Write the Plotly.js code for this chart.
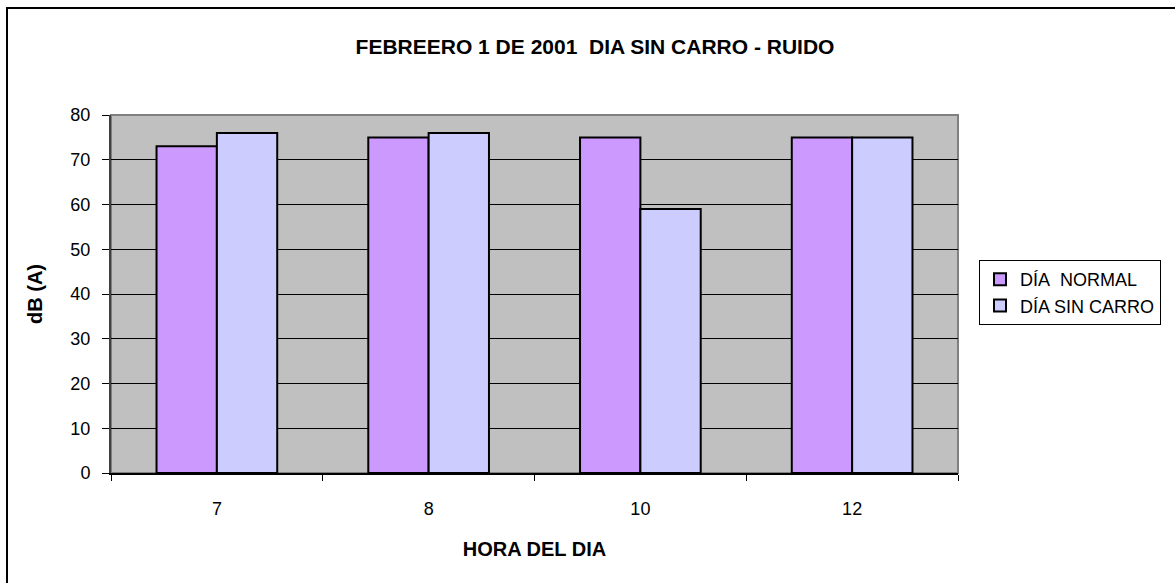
<!DOCTYPE html>
<html>
<head>
<meta charset="utf-8">
<script src="https://cdn.plot.ly/plotly-3.0.1.min.js"></script>
<style>
  html, body { margin: 0; padding: 0; background: #fff; }
  #chart { width: 1175px; height: 583px; }
</style>
</head>
<body>
<div id="chart"></div>
<script>
// *********************************************************************************************
// DATA

const HORAS = ['7', '8', '10', '12'];
const DIA_NORMAL = [73, 75, 75, 75];
const DIA_SIN_CARRO = [76, 76, 59, 75];
const Y_TICKS = [0, 10, 20, 30, 40, 50, 60, 70, 80];

const FONT = 'Arial, "Liberation Sans", sans-serif';

// *********************************************************************************************
// TRACES

let trace1 = {
    name: 'DÍA\u00a0 NORMAL',
    type: 'bar',
    x: HORAS,
    y: DIA_NORMAL,
    legendgroup: 'normal',
    marker: { color: '#CC99FF', line: { color: '#000', width: 2 } }
};

let trace2 = {
    name: 'DÍA SIN CARRO',
    type: 'bar',
    x: HORAS,
    y: DIA_SIN_CARRO,
    legendgroup: 'sincarro',
    marker: { color: '#CCCCFF', line: { color: '#000', width: 2 } }
};

let data = [trace1, trace2];

// *********************************************************************************************
// LAYOUT

// paper coords of the outer chart border (left + top edges only, it runs off the image)
const bx = (7 - 111) / 847;
const by = (473 - 8) / 358;

let layout = {
    width: 1175,
    height: 583,
    margin: { t: 115, r: 217, b: 110, l: 111 },
    paper_bgcolor: '#fff',
    plot_bgcolor: '#C0C0C0',
    font: { family: FONT, size: 18, color: '#000' },
    barmode: 'group',
    bargap: 0.43,
    bargroupgap: 0,
    title: {
        text: '<b>FEBREERO 1 DE 2001\u00a0 DIA SIN CARRO - RUIDO</b>',
        font: { family: FONT, size: 21, color: '#000' },
        xref: 'container', x: 595 / 1175, xanchor: 'center',
        yref: 'container', y: 1 - 47 / 583, yanchor: 'middle'
    },
    xaxis: {
        type: 'category',
        title: { text: '<b>HORA DEL DIA</b>', font: { size: 20 }, standoff: 24 },
        ticks: 'outside',
        tickson: 'boundaries',
        ticklen: 6,
        tickcolor: '#000',
        ticklabelstandoff: 18,
        showline: true,
        linecolor: '#000',
        linewidth: 2,
        showgrid: false,
        tickfont: { size: 18 }
    },
    yaxis: {
        title: { text: '<b>dB (A)</b>', font: { size: 20 }, standoff: 22 },
        range: [0, 80],
        tickvals: Y_TICKS,
        ticks: 'outside',
        ticklen: 7,
        tickcolor: '#000',
        ticklabelstandoff: 8,
        showline: true,
        linecolor: '#404040',
        linewidth: 2,
        showgrid: true,
        gridcolor: '#000',
        gridwidth: 1,
        zeroline: false,
        tickfont: { size: 18 }
    },
    legend: {
        x: 1.0248, xanchor: 'left',
        y: 0.595, yanchor: 'top',
        bgcolor: '#fff',
        bordercolor: '#000',
        borderwidth: 1,
        font: { family: FONT, size: 18, color: '#000' },
        traceorder: 'normal',
        tracegroupgap: 18,
        itemwidth: 30
    },
    shapes: [
        // plot area border
        {
            type: 'rect', xref: 'paper', yref: 'paper',
            x0: 0, x1: 1, y0: 0, y1: 1,
            line: { color: '#808080', width: 2 }, layer: 'below'
        },
        // chart area border
        {
            type: 'path', xref: 'paper', yref: 'paper',
            path: 'M ' + bx + ' -0.5 L ' + bx + ' ' + by + ' L 1.5 ' + by,
            line: { color: '#000', width: 2 }
        }
    ]
};

// *********************************************************************************************
// CONFIG

const config = {
    displaylogo: false,
    displayModeBar: false,
    staticPlot: true
};

Plotly.newPlot('chart', data, layout, config);
</script>
</body>
</html>
